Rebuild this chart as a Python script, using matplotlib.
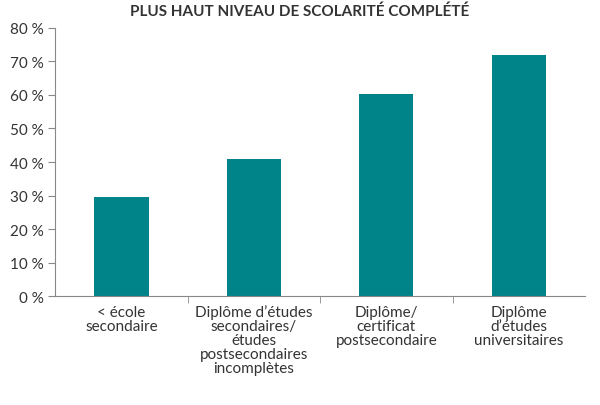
import matplotlib.pyplot as plt
import numpy as np

categories = ["< école\nsecondaire",
              "Diplôme d’études\nsecondaires/\nétudes\npostsecondaires\nincomplètes",
              "Diplôme/\ncertificat\npostsecondaire",
              "Diplôme\nd’études\nuniversitaires"]
values = [29.7, 40.8, 60.2, 72.0]
yticks = [0, 10, 20, 30, 40, 50, 60, 70, 80]

plt.rcParams['font.family'] = ['Lato', 'DejaVu Sans']
fig = plt.figure(figsize=(6, 4.06), dpi=100)
ax = fig.add_axes([0.092, 0.268, 0.883, 0.661])

x = np.arange(len(categories))
ax.bar(x, values, width=0.41, color='#00848a')
ax.set_xlim(-0.5, len(categories) - 0.5)
ax.set_ylim(0, 80)
ax.set_yticks(yticks)
ax.set_yticklabels([f"{v} %" for v in yticks], fontsize=11, color='#333333')
ax.set_xticks(x)
ax.set_xticklabels(categories, fontsize=11, color='#333333', linespacing=1.0)
ax.tick_params(axis='x', length=0, pad=6)
ax.set_xticks(np.arange(0.5, len(categories) - 1, 1), minor=True)
ax.tick_params(axis='x', which='minor', length=5, color='#888888')
ax.tick_params(axis='y', length=5, color='#888888')
for s in ['top', 'right']:
    ax.spines[s].set_visible(False)
for s in ['left', 'bottom']:
    ax.spines[s].set_color('#888888')

fig.text(0.5, 0.97, "PLUS HAUT NIVEAU DE SCOLARITÉ COMPLÉTÉ", ha='center', va='center',
         fontsize=11, fontweight='bold', color='#333333')
fig.savefig("out.png", dpi=100)
